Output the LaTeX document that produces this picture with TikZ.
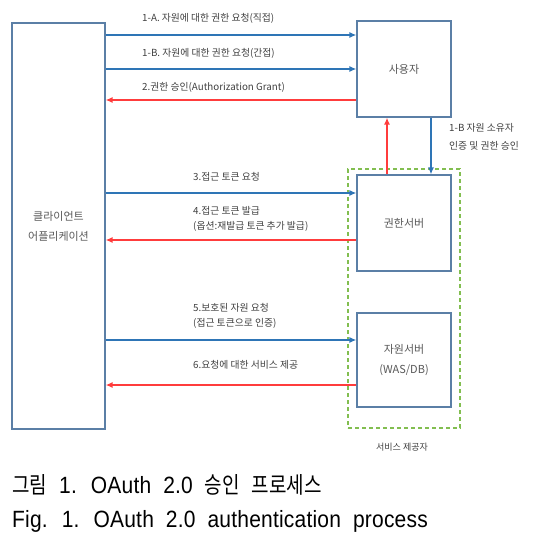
\documentclass[tikz,border=0pt]{standalone}
\usepackage{fontspec}
\setmainfont{Noto Sans CJK KR}
\newfontfamily\capfont[LetterSpace=1]{Liberation Sans}
\newfontfamily\capcjk{Noto Sans CJK KR}
\usetikzlibrary{arrows.meta}
\definecolor{boxc}{RGB}{91,127,166}
\definecolor{bluec}{RGB}{46,117,182}
\definecolor{redc}{RGB}{255,60,60}
\definecolor{greenc}{RGB}{130,190,80}
\definecolor{txtc}{RGB}{89,89,89}
\newcommand{\capspace}{\spaceskip=12pt\relax}
\newcommand{\capko}[1]{{\capcjk\fontsize{19}{22}\selectfont\capspace\scalebox{1}[1.08]{#1}}}
\tikzset{
  entity/.style={draw=boxc, line width=1.2pt, fill=white, text=txtc, font=\fontsize{11}{20}\selectfont, align=center, inner sep=0pt},
  reqarrow/.style={draw=bluec, line width=1.3pt, -{Latex[length=7pt,width=6pt]}},
  resarrow/.style={draw=redc, line width=1.6pt, -{Latex[length=7pt,width=6pt]}},
  lbl/.style={text=black!75, font=\fontsize{9.8}{15}\selectfont, anchor=west, align=left, inner sep=0pt},
  captxt/.style={anchor=base west, inner sep=0pt, font=\capfont\fontsize{21}{26}\selectfont},
}
\begin{document}
\begin{tikzpicture}[x=1pt,y=-1pt]
\useasboundingbox (0,0) rectangle (545,532);
% service provider dashed box
\node[draw=greenc, line width=1.2pt, dash pattern=on 4pt off 3pt, minimum width=112pt, minimum height=259pt, inner sep=0pt] (sp) at (404,298.5) {};
\node[text=black!75, font=\fontsize{9}{11}\selectfont] (splbl) at (402,447) {서비스 제공자};
% entities
\node[entity, minimum width=93pt, minimum height=406pt] (client) at (58.5,226) {클라이언트\\어플리케이션};
\node[entity, minimum width=94pt, minimum height=96pt] (user) at (404,69) {사용자};
\node[entity, minimum width=94pt, minimum height=96pt] (auth) at (404,223) {권한서버};
\node[entity, minimum width=94pt, minimum height=94pt] (res) at (404,360) {자원서버\\(WAS/DB)};
% horizontal arrows
\draw[reqarrow] (client.east |- 0,35) -- (user.west |- 0,35);
\draw[reqarrow] (client.east |- 0,69) -- (user.west |- 0,69);
\draw[resarrow] (user.west |- 0,100) -- (client.east |- 0,100);
\draw[reqarrow] (client.east |- 0,193) -- (auth.west |- 0,193);
\draw[resarrow] (auth.west |- 0,240) -- (client.east |- 0,240);
\draw[reqarrow] (client.east |- 0,340) -- (res.west |- 0,340);
\draw[resarrow] (res.west |- 0,385) -- (client.east |- 0,385);
% vertical arrows
\draw[resarrow] (auth.north -| 387,0) -- (user.south -| 387,0);
\draw[reqarrow] (user.south -| 431,0) -- (auth.north -| 431,0);
% labels
\node[lbl] (l1a) at (142,18) {1-A. 자원에 대한 권한 요청(직접)};
\node[lbl] (l1b) at (142,53) {1-B. 자원에 대한 권한 요청(간접)};
\node[lbl] (l2) at (142,87) {2.권한 승인(Authorization Grant)};
\node[lbl, font=\fontsize{9.8}{18}\selectfont] (l1bv) at (449,137) {1-B 자원 소유자\\인증 및 권한 승인};
\node[lbl] (l3) at (193,177) {3.접근 토큰 요청};
\node[lbl] (l4) at (193,219) {4.접근 토큰 발급\\(옵션:재발급 토큰 추가 발급)};
\node[lbl] (l5) at (193,316) {5.보호된 자원 요청\\(접근 토큰으로 인증)};
\node[lbl] (l6) at (193,365) {6.요청에 대한 서비스 제공};
% caption
\node[captxt] (cap1) at (12,493) {\scalebox{1}[1.12]{\capspace\capko{그림} 1. OAuth 2.0 \capko{승인 프로세스}}};
\node[captxt] (cap2) at (12,527) {\scalebox{1}[1.12]{\capspace Fig. 1. OAuth 2.0 authentication process}};
\end{tikzpicture}
\end{document}
